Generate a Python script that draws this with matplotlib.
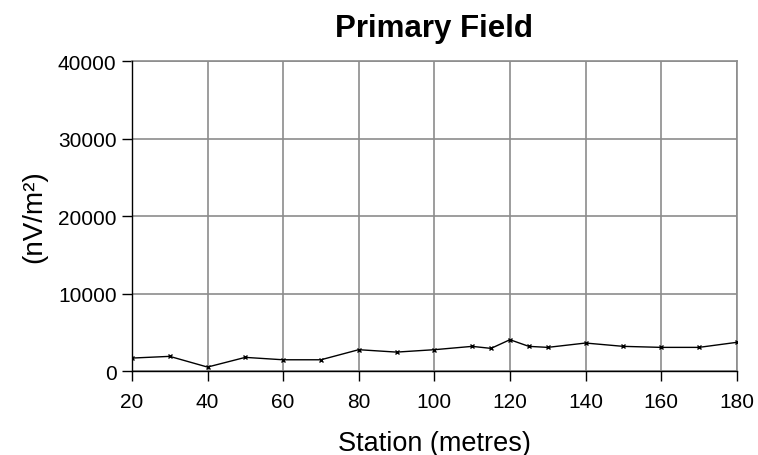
import matplotlib.pyplot as plt

# Station positions (metres) and primary field readings (nV/m²)
station = [20, 30, 40, 50, 60, 70, 80, 90, 100, 110, 115, 120, 125, 130, 140, 150, 160, 170, 180]
field = [1680, 1900, 520, 1770, 1460, 1460, 2760, 2450, 2760, 3190, 2930, 4050,
         3190, 3060, 3620, 3190, 3060, 3060, 3710]

plt.rcParams['font.family'] = ['Liberation Sans', 'DejaVu Sans']

fig = plt.figure(figsize=(7.58, 4.56), dpi=100)
ax = fig.add_axes([0.174, 0.184, 0.798, 0.68])

ax.plot(station, field, color='black', linewidth=1.0, marker='x', markersize=3,
        markeredgewidth=1.0, zorder=3)

ax.set_xlim(20, 180)
ax.set_ylim(0, 40000)
ax.set_xticks(range(20, 181, 20))
ax.set_yticks(range(0, 40001, 10000))
ax.grid(True, color='#8c8c8c', linewidth=1.2)
ax.set_axisbelow(True)

for side in ('top', 'right'):
    ax.spines[side].set_color('#8c8c8c')
    ax.spines[side].set_linewidth(1.2)
for side in ('left', 'bottom'):
    ax.spines[side].set_color('black')
    ax.spines[side].set_linewidth(1.0)
    ax.spines[side].set_zorder(4)

ax.tick_params(axis='both', labelsize=15, length=7, width=1, direction='out')
ax.tick_params(axis='x', pad=8)
ax.tick_params(axis='y', pad=4)

ax.set_title('Primary Field', fontsize=22.5, fontweight='bold', pad=18)
ax.set_xlabel('Station (metres)', fontsize=19.5, labelpad=14)
ax.set_ylabel('(nV/m²)', fontsize=20, labelpad=8)

fig.savefig('out.png', dpi=100)
